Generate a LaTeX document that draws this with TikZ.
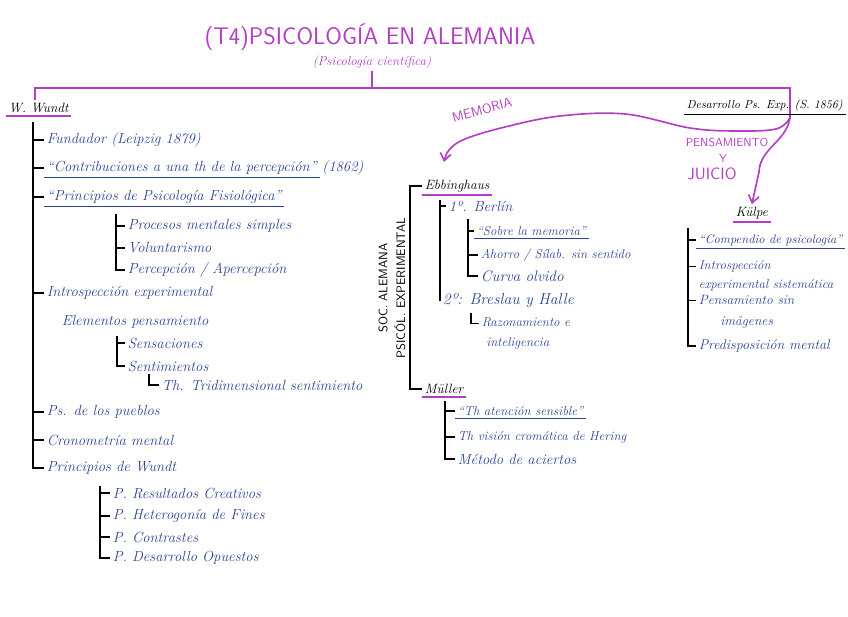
\documentclass[tikz,border=0pt]{standalone}
\usepackage{fontspec}
\usetikzlibrary{arrows.meta}
\definecolor{tinta}{RGB}{45,68,150}
\definecolor{malva}{RGB}{178,62,196}

\begin{document}
\begin{tikzpicture}[x=0.3mm, y=-0.3mm, line width=0.9pt,
  every node/.style={inner sep=2pt, anchor=west},
  rama/.style={font=\fontsize{12.5}{14}\selectfont\itshape, text=tinta},
  menor/.style={font=\fontsize{11}{13}\selectfont\itshape},
  autor/.style={font=\fontsize{11.5}{13}\selectfont\itshape, text=black},
  marca/.style={text=malva, font=\sffamily},
  raya/.style={draw=malva, line width=1.6pt},
  subr/.style={draw=tinta, line width=0.8pt},
  subm/.style={draw=malva, line width=1.8pt},
  flecha/.style={draw=malva, line width=1.4pt, -{Straight Barb[length=2.2mm, width=3.2mm]}}]
  \useasboundingbox (0,0) rectangle (848,616);

  % cabecera
  \node[marca, anchor=center, font=\sffamily\fontsize{20.5}{22}\selectfont] (titulo) at (370,37) {(T4)PSICOLOGÍA EN ALEMANIA};
  \node[marca, anchor=center, font=\fontsize{11}{12}\selectfont\itshape] (subtit) at (372,62) {(Psicología científica)};
  \coordinate (izq) at (35,88); \coordinate (der) at (790,88); \coordinate (cruce) at (790,118);
  \node[autor] (wundt) at (6,108) {W. Wundt};
  \node[autor, font=\fontsize{10}{12}\selectfont\itshape] (desarrollo) at (684,106) {Desarrollo Ps. Exp. (S. 1856)};
  \draw[raya] (subtit.south) -- (subtit.south |- izq);
  \draw[raya] (wundt.north -| izq) -- (izq) -- (der) -- (cruce);
  \draw[subm] (wundt.south west) -- (wundt.south east);
  \draw (desarrollo.south west) -- (desarrollo.south east);

  % W. Wundt
  \node[rama] (fundador) at (44,140) {Fundador (Leipzig 1879)};
  \node[rama] (contrib) at (44,168) {“Contribuciones a una th de la percepción”};
  \node[rama] (anyo) at (contrib.east) {(1862)};
  \node[rama] (princfis) at (44,197) {“Principios de Psicología Fisiológica”};
  \node[rama] (procesos) at (125,226) {Procesos mentales simples};
  \node[rama] (volunt) at (125,248) {Voluntarismo};
  \node[rama] (percep) at (125,270) {Percepción / Apercepción};
  \node[rama] (intro) at (44,293) {Introspección experimental};
  \node[rama] (elementos) at (59,322) {Elementos pensamiento};
  \node[rama] (sensac) at (125,343) {Sensaciones};
  \node[rama] (sentim) at (125,366) {Sentimientos};
  \node[rama] (tridim) at (159,385) {Th. Tridimensional sentimiento};
  \node[rama] (pueblos) at (44,412) {Ps. de los pueblos};
  \node[rama] (cronom) at (44,440) {Cronometría mental};
  \node[rama] (princw) at (44,468) {Principios de Wundt};
  \node[rama] (result) at (110,493) {P. Resultados Creativos};
  \node[rama] (hetero) at (110,516) {P. Heterogonía de Fines};
  \node[rama] (contras) at (110,537) {P. Contrastes};
  \node[rama] (opuestos) at (110,558) {P. Desarrollo Opuestos};

  \coordinate (tw) at (33,122);
  \draw (tw) |- (princw.west);
  \foreach \n in {fundador,contrib,princfis,intro,pueblos,cronom}
    \draw (\n.west) -- (\n.west -| tw);
  \coordinate (tp) at (116,214);
  \draw (tp) |- (percep.west);
  \foreach \n in {procesos,volunt} \draw (\n.west) -- (\n.west -| tp);
  \coordinate (ts) at (117,336);
  \draw (ts) |- (sentim.west);
  \draw (sensac.west) -- (sensac.west -| ts);
  \coordinate (tt) at (149,374);
  \draw (tt) |- (tridim.west);
  \coordinate (tr) at (100,486);
  \draw (tr) |- (opuestos.west);
  \foreach \n in {result,hetero,contras} \draw (\n.west) -- (\n.west -| tr);
  \foreach \n in {contrib,princfis} \draw[subr] (\n.south west) -- (\n.south east);

  % sociedad alemana
  \node[autor] (ebbing) at (422,186) {Ebbinghaus};
  \node[autor] (muller) at (422,389) {Müller};
  \draw[subm] (ebbing.south west) -- (ebbing.south east);
  \draw[subm] (muller.south west) -- (muller.south east);
  \coordinate (tb) at (410,290);
  \draw (ebbing.west) -| (tb) |- (muller.west);
  \node[anchor=center, rotate=90, align=center, font=\sffamily\fontsize{10.5}{15}\selectfont] (soc) at (392,288) {SOC. ALEMANA\\PSICÓL. EXPERIMENTAL};

  \node[rama] (berlin) at (446,206) {1º. Berlín};
  \node[rama, font=\fontsize{13.5}{15}\selectfont\itshape] (breslau) at (440,301) {2º: Breslau y Halle};
  \node[rama, menor] (sobre) at (474,231) {“Sobre la memoria”};
  \node[rama, menor] (ahorro) at (478,255) {Ahorro / Sílab. sin sentido};
  \node[rama, font=\fontsize{13}{15}\selectfont\itshape] (curva) at (478,276) {Curva olvido};
  \node[rama, anchor=north west, align=left, font=\fontsize{11}{17}\selectfont\itshape] (razon) at (479,315) {Razonamiento e\\\ inteligencia};
  \coordinate (te) at (440,200);
  \draw (te) |- (breslau.west);
  \draw (berlin.west) -- (berlin.west -| te);
  \coordinate (tl) at (468,219);
  \draw (tl) |- (curva.west);
  \foreach \n in {sobre,ahorro} \draw (\n.west) -- (\n.west -| tl);
  \coordinate (tz) at (471,313);
  \draw (tz) |- ([yshift=-7pt]razon.north west);
  \draw[subr] (sobre.south west) -- (sobre.south east);

  \node[rama, menor] (atencion) at (455,411) {“Th atención sensible”};
  \node[rama, menor] (vision) at (455,437) {Th visión cromática de Hering};
  \node[rama] (metodo) at (455,459) {Método de aciertos};
  \coordinate (tm) at (445,401);
  \draw (tm) |- (metodo.west);
  \foreach \n in {atencion,vision} \draw (\n.west) -- (\n.west -| tm);
  \draw[subr] (atencion.south west) -- (atencion.south east);

  % Külpe
  \node[autor] (kulpe) at (733,213) {Külpe};
  \draw[subm] (kulpe.south west) -- (kulpe.south east);
  \node[rama, font=\fontsize{10.5}{12}\selectfont\itshape] (compend) at (696,240) {“Compendio de psicología”};
  \node[rama, anchor=north west, align=left, font=\fontsize{11}{16}\selectfont\itshape] (introsp) at (696,258) {Introspección\\experimental sistemática};
  \node[rama, anchor=north west, align=center, font=\fontsize{11.5}{18}\selectfont\itshape] (sinimag) at (696,292) {Pensamiento sin\\imágenes};
  \node[rama, font=\fontsize{12}{14}\selectfont\itshape] (predisp) at (696,346) {Predisposición mental};
  \coordinate (tk) at (688,228);
  \draw (tk) |- (predisp.west);
  \draw (compend.west) -- (compend.west -| tk);
  \foreach \n in {introsp,sinimag} \draw ([yshift=-7pt]\n.north west) -- ([yshift=-7pt]\n.north west -| tk);
  \draw[subr] (compend.south west) -- (compend.south east);

  % flechas de la cabecera
  \coordinate (memfin) at (444,162);
  \draw[flecha] plot[smooth, tension=0.6] coordinates {(cruce) (776,129) (735,131) (690,128) (625,114) (560,116) (505,127) (465,139) (449,150) (memfin)};
  \node[marca, anchor=center, rotate=15, font=\sffamily\fontsize{11.5}{12}\selectfont] (memoria) at (482,110) {MEMORIA};
  \draw[flecha] (cruce) .. controls (786,142) and (760,148) .. (759,172) -- (kulpe.north);
  \node[marca, anchor=center, font=\sffamily\fontsize{10}{12}\selectfont] (pensam) at (727,142) {PENSAMIENTO};
  \node[marca, anchor=center, font=\sffamily\fontsize{10}{12}\selectfont] (yy) at (723,158) {Y};
  \node[marca, anchor=center, font=\sffamily\fontsize{14}{16}\selectfont] (juicio) at (712,174) {JUICIO};
\end{tikzpicture}
\end{document}
